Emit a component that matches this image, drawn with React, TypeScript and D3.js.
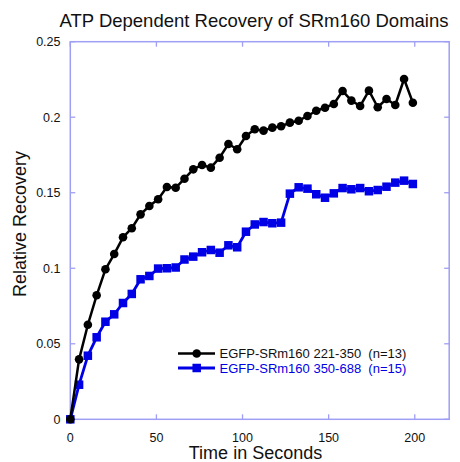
import React, { useRef, useEffect } from "react";
import * as d3 from "d3";

// time points (s)
const times = [
  0, 5.1, 10.2, 15.3, 20.4, 25.5, 30.6, 35.7, 40.8, 45.9, 51, 56.1, 61.2, 66.3,
  71.4, 76.5, 81.6, 86.7, 91.8, 96.9, 102, 107.1, 112.2, 117.3, 122.4, 127.5,
  132.6, 137.7, 142.8, 147.9, 153, 158.1, 163.2, 168.3, 173.4, 178.5, 183.6,
  188.7, 193.8, 198.9
];

// EGFP-SRm160 221-350
const blackValues = [
  0, 0.0397, 0.0626, 0.0821, 0.0993, 0.1094, 0.1205, 0.1265, 0.1357, 0.1412,
  0.1457, 0.1538, 0.1533, 0.1593, 0.1655, 0.1684, 0.1666, 0.1732, 0.1823,
  0.1788, 0.1876, 0.192, 0.1911, 0.1931, 0.194, 0.1964, 0.1977, 0.2008, 0.2043,
  0.2063, 0.2088, 0.2174, 0.211, 0.2074, 0.2176, 0.2066, 0.2121, 0.2081,
  0.2253, 0.2096
];

// EGFP-SRm160 350-688
const blueValues = [
  0, 0.0229, 0.0421, 0.0543, 0.0646, 0.0695, 0.077, 0.083, 0.0927, 0.0949,
  0.0998, 0.1, 0.1005, 0.1058, 0.1077, 0.1106, 0.1121, 0.1103, 0.1152, 0.1139,
  0.1242, 0.129, 0.1306, 0.1298, 0.1302, 0.1494, 0.1536, 0.1527, 0.149,
  0.1467, 0.1496, 0.1531, 0.1523, 0.1531, 0.151, 0.1518, 0.154, 0.1567, 0.158,
  0.1558
];

const xTicks = [0, 50, 100, 150, 200];
const yTicks = [0, 0.05, 0.1, 0.15, 0.2, 0.25];
const legendLabels = ["EGFP-SRm160 221-350  (n=13)", "EGFP-SRm160 350-688  (n=15)"];

const W = 460;
const H = 462;
const frameColor = "#9f9ff5";
const blue = "#0000e6";
const font = "Arial, 'Liberation Sans', sans-serif";

const App = () => {
  const ref = useRef<SVGSVGElement>(null);

  useEffect(() => {
    const svg = d3.select(ref.current);
    svg.selectAll("*").remove();

    const x = d3.scaleLinear().domain([0, 220]).range([70.3, 449.2]);
    const y = d3.scaleLinear().domain([0, 0.25]).range([419.3, 41.7]);
    const [x0, x1] = x.range();
    const [y0, y1] = y.range();

    // frame
    svg
      .append("rect")
      .attr("x", x0)
      .attr("y", y1)
      .attr("width", x1 - x0)
      .attr("height", y0 - y1)
      .attr("fill", "none")
      .attr("stroke", frameColor)
      .attr("stroke-width", 1.5);

    const tickLen = 5;
    const axes = svg.append("g").attr("stroke", frameColor).attr("stroke-width", 1.3);
    xTicks.forEach(t => {
      axes.append("line").attr("x1", x(t)).attr("x2", x(t)).attr("y1", y0).attr("y2", y0 - tickLen);
      axes.append("line").attr("x1", x(t)).attr("x2", x(t)).attr("y1", y1).attr("y2", y1 + tickLen);
    });
    yTicks.forEach(t => {
      axes.append("line").attr("x1", x0).attr("x2", x0 + tickLen).attr("y1", y(t)).attr("y2", y(t));
      axes.append("line").attr("x1", x1).attr("x2", x1 - tickLen).attr("y1", y(t)).attr("y2", y(t));
    });

    // tick labels
    svg
      .append("g")
      .selectAll("text")
      .data(xTicks)
      .join("text")
      .attr("x", d => x(d))
      .attr("y", 441.5)
      .attr("text-anchor", "middle")
      .attr("font-family", font)
      .attr("font-size", 12.5)
      .attr("fill", "#111")
      .text(d => d);

    svg
      .append("g")
      .selectAll("text")
      .data(yTicks)
      .join("text")
      .attr("x", 60.5)
      .attr("y", d => y(d) + 4.3)
      .attr("text-anchor", "end")
      .attr("font-family", font)
      .attr("font-size", 12.5)
      .attr("fill", "#111")
      .text(d => d);

    // titles
    svg
      .append("text")
      .attr("x", 254)
      .attr("y", 27)
      .attr("text-anchor", "middle")
      .attr("font-family", font)
      .attr("font-size", 18.5)
      .attr("fill", "#111")
      .text("ATP Dependent Recovery of SRm160 Domains");

    svg
      .append("text")
      .attr("x", 255.5)
      .attr("y", 459)
      .attr("text-anchor", "middle")
      .attr("font-family", font)
      .attr("font-size", 18)
      .attr("fill", "#111")
      .text("Time in Seconds");

    svg
      .append("text")
      .attr("transform", "translate(25.5,224) rotate(-90)")
      .attr("text-anchor", "middle")
      .attr("font-family", font)
      .attr("font-size", 18)
      .attr("fill", "#111")
      .text("Relative Recovery");

    const line = d3
      .line<number>()
      .x((d, i) => x(times[i]))
      .y(d => y(d));

    // blue series
    svg
      .append("path")
      .attr("d", line(blueValues))
      .attr("fill", "none")
      .attr("stroke", blue)
      .attr("stroke-width", 2.8)
      .attr("stroke-linejoin", "round");
    const sq = 8.5;
    svg
      .append("g")
      .selectAll("rect")
      .data(blueValues)
      .join("rect")
      .attr("x", (d, i) => x(times[i]) - sq / 2)
      .attr("y", d => y(d) - sq / 2)
      .attr("width", sq)
      .attr("height", sq)
      .attr("fill", blue);

    // black series
    svg
      .append("path")
      .attr("d", line(blackValues))
      .attr("fill", "none")
      .attr("stroke", "#000")
      .attr("stroke-width", 2.5)
      .attr("stroke-linejoin", "round");
    svg
      .append("g")
      .selectAll("circle")
      .data(blackValues)
      .join("circle")
      .attr("cx", (d, i) => x(times[i]))
      .attr("cy", d => y(d))
      .attr("r", 4.3)
      .attr("fill", "#000");

    // legend
    const legend = svg.append("g").attr("font-family", font).attr("font-size", 13);
    const rows = [
      { label: legendLabels[0], color: "#000", ly: 353.5, shape: "circle" },
      { label: legendLabels[1], color: blue, ly: 368, shape: "square" }
    ];
    rows.forEach(r => {
      legend
        .append("line")
        .attr("x1", 178)
        .attr("x2", 215)
        .attr("y1", r.ly)
        .attr("y2", r.ly)
        .attr("stroke", r.color)
        .attr("stroke-width", r.shape === "circle" ? 2.5 : 2.8);
      if (r.shape === "circle") {
        legend.append("circle").attr("cx", 196.7).attr("cy", r.ly).attr("r", 4.3).attr("fill", r.color);
      } else {
        legend
          .append("rect")
          .attr("x", 196.7 - sq / 2)
          .attr("y", r.ly - sq / 2)
          .attr("width", sq)
          .attr("height", sq)
          .attr("fill", r.color);
      }
      legend
        .append("text")
        .attr("x", 219.5)
        .attr("y", r.ly + 4.7)
        .attr("fill", r.color === "#000" ? "#111" : r.color)
        .attr("xml:space", "preserve")
        .style("white-space", "pre")
        .text(r.label);
    });
  }, []);

  return (
    <svg
      ref={ref}
      width={W}
      height={H}
      style={{ position: "absolute", left: 0, top: 0, background: "#fff" }}
    />
  );
};

export default App;
